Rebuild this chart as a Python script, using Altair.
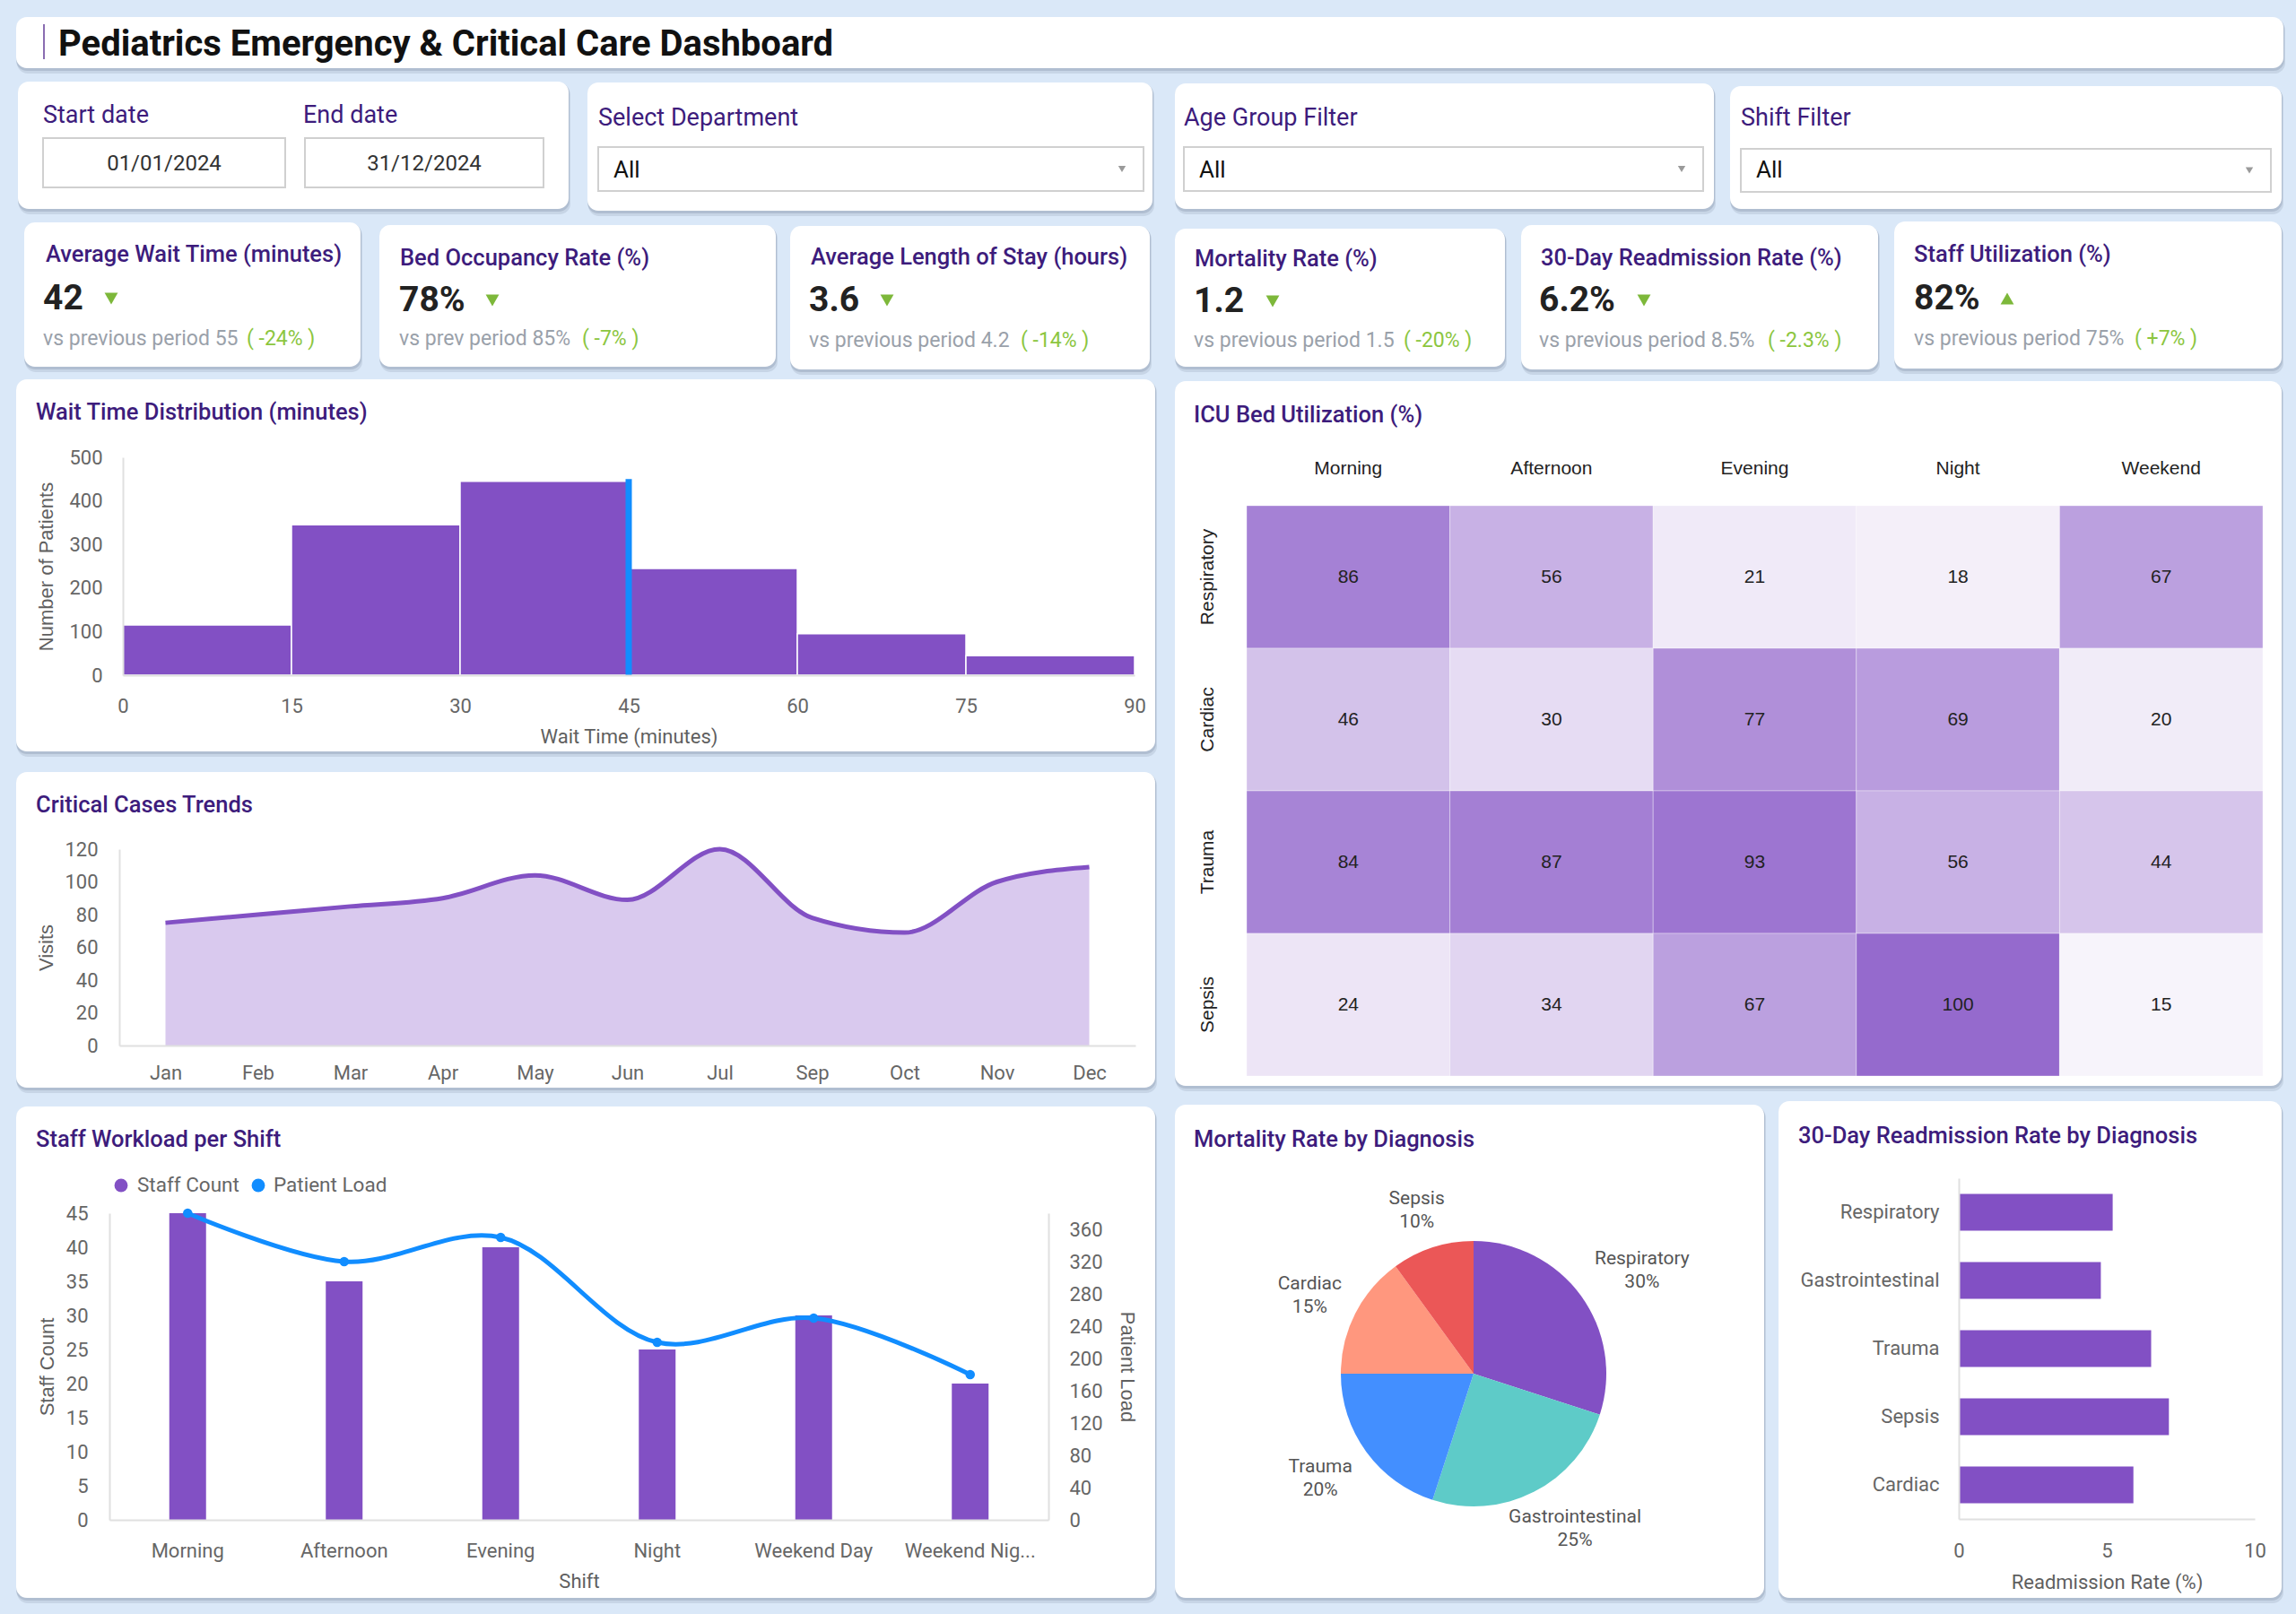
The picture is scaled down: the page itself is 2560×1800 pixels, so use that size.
import altair as alt
import pandas as pd

W, H = 2560, 1800
PAGE_BG = "#dae8f8"
PURPLE = "#8250C4"
BLUE = "#118DFF"
HEAD = "#3d1c7c"
INK = "#666666"
SUB = "#9aa1aa"
GREEN = "#8cc63f"
FONT = "Roboto"
SANS = "Liberation Sans"

# ---------------- data ----------------
dashboard_title = "Pediatrics Emergency & Critical Care Dashboard"
start_date = "01/01/2024"
end_date = "31/12/2024"
filter_labels = ["Select Department", "Age Group Filter", "Shift Filter"]
filter_values = ["All", "All", "All"]

kpi_titles = ["Average Wait Time (minutes)", "Bed Occupancy Rate (%)", "Average Length of Stay (hours)",
              "Mortality Rate (%)", "30-Day Readmission Rate (%)", "Staff Utilization (%)"]
kpi_values = ["42", "78%", "3.6", "1.2", "6.2%", "82%"]
kpi_previous = ["vs previous period 55", "vs prev period 85%", "vs previous period 4.2",
                "vs previous period 1.5", "vs previous period 8.5%", "vs previous period 75%"]
kpi_change = ["( -24% )", "( -7% )", "( -14% )", "( -20% )", "( -2.3% )", "( +7% )"]
kpi_up = [False, False, False, False, False, True]

wait_bin_start = [0, 15, 30, 45, 60, 75]
wait_bin_end = [15, 30, 45, 60, 75, 90]
wait_patients = [115, 345, 445, 245, 95, 45]
wait_marker_minute = [45]
wait_marker_height = [450]

icu_shifts = ["Morning", "Afternoon", "Evening", "Night", "Weekend"]
icu_units = ["Respiratory", "Cardiac", "Trauma", "Sepsis"]
icu_util = [[86, 56, 21, 18, 67],
            [46, 30, 77, 69, 20],
            [84, 87, 93, 56, 44],
            [24, 34, 67, 100, 15]]

months = ["Jan", "Feb", "Mar", "Apr", "May", "Jun", "Jul", "Sep", "Oct", "Nov", "Dec"]
critical_visits = [75, 80, 85, 90, 104, 89, 120, 78, 69, 100, 109]

shifts = ["Morning", "Afternoon", "Evening", "Night", "Weekend Day", "Weekend Night"]
staff_count = [45, 35, 40, 25, 30, 20]
patient_load = [380, 320, 350, 220, 250, 180]

mortality_dx = ["Respiratory", "Gastrointestinal", "Trauma", "Cardiac", "Sepsis"]
mortality_share = [30, 25, 20, 15, 10]
mortality_colors = ["#8250C4", "#5ECBC8", "#438FFF", "#FF977E", "#EB5757"]

readmit_dx = ["Respiratory", "Gastrointestinal", "Trauma", "Sepsis", "Cardiac"]
readmit_rate = [5.2, 4.8, 6.5, 7.1, 5.9]

# ---------------- layout (pixels) ----------------
title_box = (18, 19, 2546, 76)
date_box = (20, 91, 634, 233)
filter_boxes = [(655, 92, 1285, 235), (1310, 93, 1911, 233), (1929, 96, 2544, 233)]
dropdowns = [(667, 164, 1275, 213), (1320, 164, 1899, 213), (1941, 166, 2532, 214)]
kpi_boxes = [(27, 248, 402, 409), (423, 251, 865, 409), (881, 252, 1282, 412),
             (1310, 255, 1678, 409), (1696, 251, 2094, 412), (2112, 247, 2544, 411)]
kpi_title_pos = [(51, 292), (446, 296), (904, 295), (1332, 297), (1718, 296), (2134, 292)]
kpi_value_pos = [(48, 345), (445, 347), (902, 347), (1331, 348), (1716, 347), (2134, 345)]
kpi_arrow_x = [124, 549, 989, 1419, 1833, 2238]
kpi_prev_pos = [(48, 385), (445, 385), (902, 387), (1331, 387), (1716, 387), (2134, 385)]
kpi_change_x = [275, 649, 1138, 1565, 1971, 2380]

wait_box = (18, 423, 1288, 838)
icu_box = (1310, 425, 2544, 1211)
crit_box = (18, 861, 1288, 1213)
staff_box = (18, 1234, 1288, 1782)
mort_box = (1310, 1232, 1967, 1782)
readmit_box = (1983, 1228, 2544, 1782)

# pie label nudges (dx, dy) per slice, in the order of mortality_dx
pie_label_nudge = [(22, -8), (20, -23), (-5, -16), (0, -7), (0, 0)]

one = pd.DataFrame({"k": [0]})


def rect(x0, y0, x1, y1, fill="white", r=0, opacity=1.0, stroke=None, sw=0):
    kw = dict(fill=fill, cornerRadius=r, opacity=opacity)
    if stroke:
        kw.update(stroke=stroke, strokeWidth=sw)
    return alt.Chart(one).mark_rect(**kw).encode(
        x=alt.value(x0), x2=alt.value(x1), y=alt.value(y0), y2=alt.value(y1))


def card(b):
    x0, y0, x1, y1 = b
    return [rect(x0 + 1, y0 + 3, x1 + 2, y1 + 6, fill="#a3b2c7", r=12, opacity=0.35),
            rect(x0, y0 + 1, x1 + 1, y1 + 3, fill="#9aa8bc", r=12, opacity=0.5),
            rect(x0, y0, x1, y1, fill="white", r=12)]


def text(s, x, y, size, color, weight="normal", align="left", baseline="alphabetic", font=FONT):
    return alt.Chart(one).mark_text(text=s, align=align, baseline=baseline, fontSize=size,
                                    color=color, fontWeight=weight, font=font).encode(
        x=alt.value(x), y=alt.value(y))


def axis(orient, offset, title=None, values=None, pad=22, tpad=12, domain=True,
         label_size=22, label_color=INK, title_font=SANS, **extra):
    kw = dict(orient=orient, offset=offset, labelFont=FONT, labelFontSize=label_size,
              labelColor=label_color, ticks=False, tickSize=0, labelPadding=pad, grid=False,
              zindex=1, domain=domain, domainColor="#e0e0e0", domainWidth=2, labelFlush=False,
              labelOverlap=False)
    if orient in ("top", "bottom"):
        kw.update(labelAngle=0, labelAlign="center",
                  labelBaseline="top" if orient == "bottom" else "bottom")
    if title is None:
        kw["title"] = None
    else:
        kw.update(title=title, titleFont=title_font, titleFontSize=22, titleColor="#5f5f5f",
                  titleFontWeight="normal", titlePadding=tpad)
    if values is not None:
        kw["values"] = values
    kw.update(extra)
    return alt.Axis(**kw)


layers = []

# ---- cards ----
for b in [title_box, date_box, *filter_boxes, *kpi_boxes, wait_box, icu_box, crit_box,
          staff_box, mort_box, readmit_box]:
    layers += card(b)

# ---- header ----
layers.append(rect(48, 27, 50, 66, fill="#8a6db1"))
layers.append(text(dashboard_title, 65, 62, 40, "#111111", weight="bold"))

# ---- date range ----
layers.append(text("Start date", 48, 137, 27, HEAD))
layers.append(text("End date", 338, 137, 27, HEAD))
layers.append(rect(48, 154, 318, 209, fill="white", stroke="#d0d0d0", sw=2))
layers.append(rect(340, 154, 606, 209, fill="white", stroke="#d0d0d0", sw=2))
layers.append(text(start_date, 183, 190, 24, "#333333", align="center"))
layers.append(text(end_date, 473, 190, 24, "#333333", align="center"))

# ---- dropdown filters ----
for (dx0, dy0, dx1, dy1), lab, val in zip(dropdowns, filter_labels, filter_values):
    layers.append(text(lab, dx0, 140, 27, HEAD))
    layers.append(rect(dx0, dy0, dx1, dy1, fill="white", stroke="#d0d0d0", sw=2))
    layers.append(text(val, dx0 + 17, 198, 26, "#111111"))
    layers.append(alt.Chart(one).mark_point(shape="triangle-down", filled=True, size=70,
                                            color="#9a9a9a", opacity=1).encode(
        x=alt.value(dx1 - 24), y=alt.value((dy0 + dy1) / 2)))

# ---- KPI tiles ----
for i in range(6):
    tx, ty = kpi_title_pos[i]
    vx, vy = kpi_value_pos[i]
    px, py = kpi_prev_pos[i]
    layers.append(text(kpi_titles[i], tx, ty, 25.5, HEAD, weight=500))
    layers.append(text(kpi_values[i], vx, vy, 39, "#222222", weight="bold"))
    layers.append(alt.Chart(one).mark_point(
        shape="triangle-up" if kpi_up[i] else "triangle-down", filled=True, size=220,
        color="#7db83a", opacity=1).encode(x=alt.value(kpi_arrow_x[i]), y=alt.value(vy - 12)))
    layers.append(text(kpi_previous[i], px, py, 23, SUB))
    layers.append(text(kpi_change[i], kpi_change_x[i], py, 23, GREEN))

# ---- wait time distribution ----
layers.append(text("Wait Time Distribution (minutes)", 40, 468, 25.5, HEAD, weight=500))
hist_df = pd.DataFrame({"start": wait_bin_start, "end": wait_bin_end, "patients": wait_patients})
hist_x = alt.Scale(domain=[0, 90], range=[137, 1265], nice=False, zero=False)
hist_y = alt.Scale(domain=[0, 500], range=[753, 510], nice=False)
layers.append(alt.Chart(hist_df).mark_rect(color=PURPLE, stroke="white", strokeWidth=1.5).encode(
    x=alt.X("start:Q", scale=hist_x,
            axis=axis("bottom", -(H - 753), "Wait Time (minutes)", [0, 15, 30, 45, 60, 75, 90],
                      pad=24, tpad=13, title_font=FONT)),
    x2="end:Q",
    y=alt.Y("patients:Q", scale=hist_y,
            axis=axis("left", -137, "Number of Patients", [0, 100, 200, 300, 400, 500], pad=23, tpad=13)),
    y2=alt.datum(0),
))
marker_df = pd.DataFrame({"minute": wait_marker_minute, "top": wait_marker_height})
layers.append(alt.Chart(marker_df).mark_rule(color=BLUE, strokeWidth=7).encode(
    x=alt.X("minute:Q", scale=hist_x, axis=None),
    y=alt.Y("top:Q", scale=hist_y, axis=None),
    y2=alt.datum(0),
))

# ---- ICU heatmap ----
layers.append(text("ICU Bed Utilization (%)", 1331, 471, 25.5, HEAD, weight=500))
icu_df = pd.DataFrame([{"unit": u, "shift": s, "util": icu_util[i][j]}
                       for i, u in enumerate(icu_units) for j, s in enumerate(icu_shifts)])
icu_x = alt.Scale(domain=icu_shifts, range=[1390, 2523], paddingInner=0, paddingOuter=0)
icu_y = alt.Scale(domain=icu_units, range=[564, 1200], paddingInner=0, paddingOuter=0)
layers.append(alt.Chart(icu_df).mark_rect(stroke="white", strokeWidth=1, strokeOpacity=0.35).encode(
    x=alt.X("shift:N", sort=icu_shifts, scale=icu_x,
            axis=axis("top", -564, pad=32, domain=False, label_size=21, label_color="#222222",
                      labelFont=SANS)),
    y=alt.Y("unit:N", sort=icu_units, scale=icu_y,
            axis=axis("left", -1390, pad=34, domain=False, label_size=21, label_color="#222222",
                      labelFont=SANS, labelAngle=270, labelAlign="center", labelBaseline="bottom")),
    color=alt.Color("util:Q", scale=alt.Scale(domain=[15, 100], range=["#f7f4fb", "#956acd"],
                                              interpolate="rgb"), legend=None),
))
layers.append(alt.Chart(icu_df).mark_text(font=SANS, fontSize=21, color="#222222").encode(
    x=alt.X("shift:N", sort=icu_shifts, scale=icu_x, axis=None),
    y=alt.Y("unit:N", sort=icu_units, scale=icu_y, axis=None),
    text="util:Q",
))

# ---- critical cases trend ----
layers.append(text("Critical Cases Trends", 40, 906, 25.5, HEAD, weight=500))
crit_df = pd.DataFrame({"month": months, "visits": critical_visits})
crit_x = alt.Scale(type="point", domain=months, range=[133, 1266], padding=0.5)
crit_y = alt.Scale(domain=[0, 120], range=[1166, 947], nice=False)
layers.append(alt.Chart(crit_df).mark_area(
    color="#d9c9ee", opacity=1, interpolate="monotone",
    line=alt.OverlayMarkDef(color=PURPLE, strokeWidth=5)).encode(
    x=alt.X("month:N", sort=months, scale=crit_x, axis=axis("bottom", -(H - 1166), pad=20)),
    y=alt.Y("visits:Q", scale=crit_y,
            axis=axis("left", -133, "Visits", [0, 20, 40, 60, 80, 100, 120], pad=24, tpad=8)),
))

# ---- staff workload ----
layers.append(text("Staff Workload per Shift", 40, 1279, 25.5, HEAD, weight=500))
layers.append(alt.Chart(one).mark_circle(size=220, color=PURPLE, opacity=1).encode(
    x=alt.value(135), y=alt.value(1322)))
layers.append(text("Staff Count", 153, 1322, 22.5, INK, baseline="middle"))
layers.append(alt.Chart(one).mark_circle(size=220, color=BLUE, opacity=1).encode(
    x=alt.value(288), y=alt.value(1322)))
layers.append(text("Patient Load", 305, 1322, 22.5, INK, baseline="middle"))

staff_df = pd.DataFrame({"shift": shifts, "staff": staff_count, "load": patient_load})
staff_band = alt.Scale(domain=shifts, range=[122, 1169], paddingInner=0, paddingOuter=0)
staff_point = alt.Scale(type="point", domain=shifts, range=[122, 1169], padding=0.5)
staff_y = alt.Scale(domain=[0, 45], range=[1695, 1353], nice=False)
load_y = alt.Scale(domain=[0, 380], range=[1695, 1353], nice=False)
layers.append(alt.Chart(staff_df).mark_bar(color=PURPLE, size=41).encode(
    x=alt.X("shift:N", sort=shifts, scale=staff_band,
            axis=axis("bottom", -(H - 1695), "Shift", pad=24, tpad=13, title_font=FONT,
                      labelExpr="length(datum.label) > 12 ? slice(datum.label, 0, 11) + '...' : datum.label")),
    y=alt.Y("staff:Q", scale=staff_y,
            axis=axis("left", -122, "Staff Count", list(range(0, 50, 5)), pad=24, tpad=9)),
))
layers.append(alt.Chart(staff_df).mark_line(
    color=BLUE, strokeWidth=5, interpolate="catmull-rom",
    point=alt.OverlayMarkDef(filled=True, size=110, color=BLUE, opacity=1)).encode(
    x=alt.X("shift:N", sort=shifts, scale=staff_point, axis=None),
    y=alt.Y("load:Q", scale=load_y,
            axis=axis("right", -(W - 1169), "Patient Load", list(range(0, 400, 40)), pad=23, tpad=15)),
))

# ---- mortality pie ----
layers.append(text("Mortality Rate by Diagnosis", 1331, 1279, 25.5, HEAD, weight=500))
pie_df = pd.DataFrame({"dx": mortality_dx, "share": mortality_share, "idx": list(range(len(mortality_dx)))})
pie_df["lbl"] = pie_df["dx"] + "\n" + pie_df["share"].astype(str) + "%"
pie_cx, pie_cy = 1643, 1532
total_share = sum(mortality_share)
layers.append(alt.Chart(pie_df).mark_arc(outerRadius=148).encode(
    theta=alt.Theta("share:Q", stack=True),
    order=alt.Order("idx:Q"),
    color=alt.Color("dx:N", scale=alt.Scale(domain=mortality_dx, range=mortality_colors), legend=None),
    x=alt.value(pie_cx), y=alt.value(pie_cy),
))
# one label layer per slice so each can be nudged; angles are the cumulative mid-points
for name, (ndx, ndy) in zip(mortality_dx, pie_label_nudge):
    layers.append(alt.Chart(pie_df).transform_window(
        cum="sum(share)", sort=[alt.SortField("idx", order="ascending")],
        frame=[None, 0]).transform_calculate(
        mid="datum.cum - datum.share / 2").transform_filter(
        alt.datum.dx == name).mark_text(
        radius=205, fontSize=21, font=FONT, color="#555555", lineBreak="\n", lineHeight=26,
        align="center", baseline="middle", dx=ndx, dy=ndy).encode(
        theta=alt.Theta("mid:Q", stack=None,
                        scale=alt.Scale(domain=[0, total_share], range=[0, 6.283185307179586])),
        text="lbl:N",
        x=alt.value(pie_cx), y=alt.value(pie_cy),
    ))

# ---- readmission bars ----
layers.append(text("30-Day Readmission Rate by Diagnosis", 2005, 1275, 25.5, HEAD, weight=500))
readmit_df = pd.DataFrame({"dx": readmit_dx, "rate": readmit_rate})
rd_y = alt.Scale(domain=readmit_dx, range=[1314, 1694], paddingInner=0, paddingOuter=0)
rd_x = alt.Scale(domain=[0, 10], range=[2184, 2514], nice=False)
layers.append(alt.Chart(readmit_df).mark_bar(color=PURPLE, size=41).encode(
    y=alt.Y("dx:N", sort=readmit_dx, scale=rd_y, axis=axis("left", -2184, pad=22)),
    x=alt.X("rate:Q", scale=rd_x,
            axis=axis("bottom", -(H - 1694), "Readmission Rate (%)", [0, 5, 10], pad=25, tpad=14,
                      title_font=FONT)),
))

chart = (
    alt.layer(*layers)
    .resolve_scale(x="independent", y="independent", color="independent", theta="independent")
    .resolve_axis(x="independent", y="independent")
    .properties(width=W, height=H, autosize=alt.AutoSizeParams(type="none"), padding=0,
                background=PAGE_BG)
    .configure_view(stroke=None)
)

chart.save("out.html", embed_options={"renderer": "svg", "actions": False})
